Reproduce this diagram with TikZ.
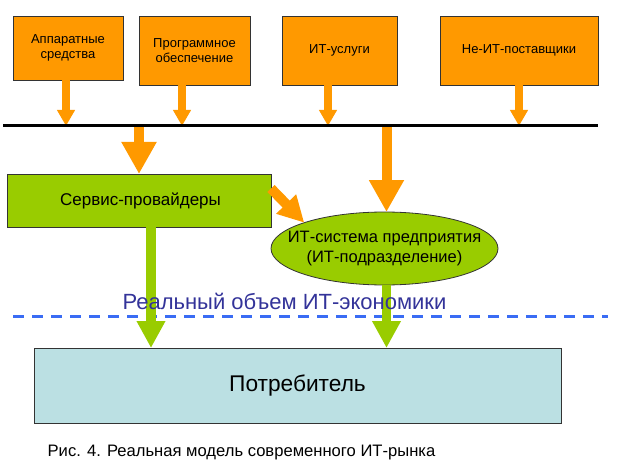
\documentclass[tikz,border=0pt]{standalone}
\usepackage{fontspec}
\setmainfont{Liberation Sans}
\usetikzlibrary{arrows.meta,shapes.geometric}
\definecolor{supplyorange}{HTML}{FF9900}
\definecolor{servicegreen}{HTML}{99CC00}
\definecolor{consumercyan}{HTML}{BBE0E3}
\definecolor{borderblue}{HTML}{3A6CF4}
\definecolor{labelblue}{HTML}{333399}

\begin{document}
\begin{tikzpicture}[
x=1pt, y=-1pt,
supply/.style={draw=black!80, line width=0.8pt, fill=supplyorange, inner sep=0pt, outer sep=0pt, align=center, font=\fontsize{13}{15}\selectfont, minimum height=69pt},
provider/.style={draw=black!80, line width=0.8pt, fill=servicegreen, inner sep=0pt, outer sep=0pt, align=center, font=\fontsize{16.5}{20}\selectfont},
feed/.style={-{Triangle[width=17pt,length=16pt]}, line width=8pt, supplyorange},
bigfeed/.style={-{Triangle[width=33pt,length=32pt]}, line width=10pt, supplyorange},
deliver/.style={-{Triangle[width=27pt,length=27pt]}, line width=9.5pt, servicegreen}
]
\useasboundingbox (0,0) rectangle (640,476);
% suppliers
\node[supply, minimum width=110pt, minimum height=64pt] (hw) at (68,48) {Аппаратные\\средства};
\node[supply, minimum width=111pt] (sw) at (194.5,50.5) {Программное\\обеспечение};
\node[supply, minimum width=115pt] (its) at (339.5,50.5) {ИТ-услуги};
\node[supply, minimum width=158pt] (nonit) at (519,50.5) {Не-ИТ-поставщики};
% market bar
\coordinate (barL) at (3,126);
\coordinate (barR) at (598,126);
\coordinate (hwout) at ([xshift=-2pt]hw.south);
\coordinate (swout) at ([xshift=-12.5pt]sw.south);
\coordinate (itsout) at ([xshift=-11.5pt]its.south);
\draw[feed] (hwout) -- (hwout |- barL);
\draw[feed] (swout) -- (swout |- barL);
\draw[feed] (itsout) -- (itsout |- barL);
\draw[feed] (nonit.south) -- (nonit.south |- barL);
% providers and enterprise
\node[provider, minimum width=264pt, minimum height=53pt, font=\fontsize{17}{20}\selectfont] (sp) at (139,200.5) {\hspace*{3pt}Сервис-провайдеры};
\node[provider, ellipse, inner xsep=-28pt, minimum width=227pt, minimum height=73pt] (ent) at (384.5,248.5) {ИТ-система предприятия\\(ИТ-подразделение)};
\node[draw=black!80, line width=0.8pt, fill=consumercyan, inner sep=0pt, outer sep=0pt, minimum width=527pt, minimum height=75pt, font=\fontsize{22.7}{26}\selectfont] (cons) at (297.5,385.5) {Потребитель};
\draw[bigfeed] (sp.north |- barL) -- (sp.north);
\draw[bigfeed] ([xshift=2pt]ent.north |- barL) -- ([xshift=2pt]ent.north);
\draw[-{Triangle[width=26pt,length=26pt]}, line width=10pt, supplyorange] ([yshift=12pt]sp.east) -- (ent.north west);
\draw[line width=3pt] (barL) -- (barR);
% border of real IT economy
\coordinate (edgeL) at (13,316);
\coordinate (edgeR) at (608,316);
\draw[borderblue, line width=3pt, dash pattern=on 11pt off 8pt] (edgeL) -- (edgeR);
\coordinate (spout) at ([xshift=12pt]sp.south);
\coordinate (entout) at ([xshift=2pt]ent.south);
\draw[deliver] (spout) -- (spout |- cons.north);
\draw[deliver] (entout) -- (entout |- cons.north);
\node[labelblue, font=\fontsize{22}{26}\selectfont] (real) at (284.5,301) {Реальный объем ИТ-экономики};
\node[font=\fontsize{16.6}{20}\selectfont] (caption) at (241.5,453) {Рис. 4. Реальная модель современного ИТ-рынка};
\end{tikzpicture}
\end{document}
